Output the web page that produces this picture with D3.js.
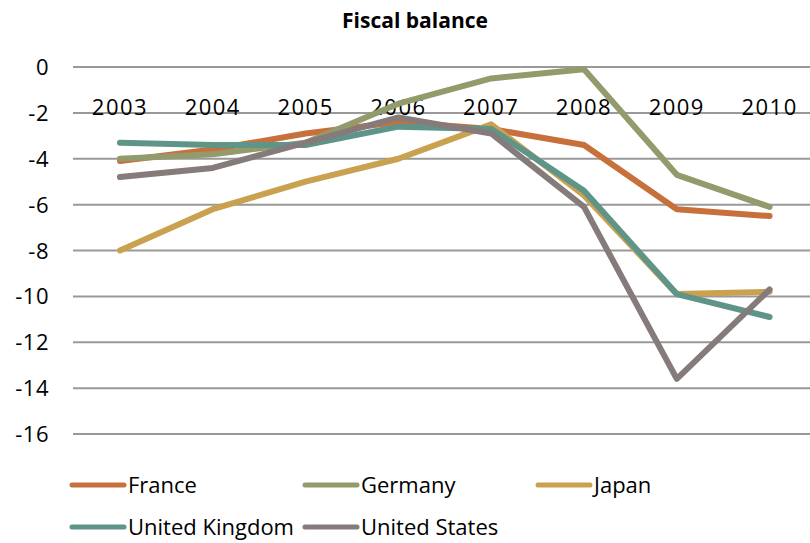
<!DOCTYPE html>
<html>
<head>
<meta charset="utf-8">
<script src="https://cdn.jsdelivr.net/npm/d3@7"></script>
<style>
body { margin: 0; background: #fff; }
text { font-family: "Open Sans", "DejaVu Sans", sans-serif; fill: #000; }
</style>
</head>
<body>
<div id="chart"></div>
<script>
var years = ["2003", "2004", "2005", "2006", "2007", "2008", "2009", "2010"]
var yTicks = [0, -2, -4, -6, -8, -10, -12, -14, -16]

var france = [-4.1, -3.6, -2.9, -2.4, -2.7, -3.4, -6.2, -6.5]
var germany = [-4.0, -3.8, -3.3, -1.6, -0.5, -0.1, -4.7, -6.1]
var japan = [-8.0, -6.2, -5.0, -4.0, -2.5, -5.6, -9.9, -9.8]
var uk = [-3.3, -3.4, -3.4, -2.6, -2.7, -5.4, -9.9, -10.9]
var us = [-4.8, -4.4, -3.3, -2.2, -2.9, -6.1, -13.6, -9.7]

var seriesNames = ["France", "Germany", "Japan", "United Kingdom", "United States"]
var seriesValues = [france, germany, japan, uk, us]
var seriesColors = ["#c8703c", "#939a6c", "#c9a14f", "#5f9488", "#857b7b"]

var width = 810, height = 543

var svg = d3.select("#chart").append("svg")
    .attr("width", width)
    .attr("height", height)

// title
svg.append("text")
    .attr("x", 415)
    .attr("y", 28)
    .attr("text-anchor", "middle")
    .style("font-size", "21px")
    .style("font-weight", "bold")
    .text("Fiscal balance")

var x = d3.scaleBand().domain(years).range([73.6, 816])
var y = d3.scaleLinear().domain([-16, 0]).range([434, 67])

// gridlines
svg.append("g")
    .selectAll("line")
    .data(yTicks)
    .enter().append("line")
    .attr("x1", 73)
    .attr("x2", width)
    .attr("y1", function (d) { return y(d) })
    .attr("y2", function (d) { return y(d) })
    .attr("stroke", "#999")
    .attr("stroke-width", 2)

// y labels
svg.append("g")
    .selectAll("text")
    .data(yTicks)
    .enter().append("text")
    .attr("x", 49)
    .attr("y", function (d) { return y(d) + 8 })
    .attr("text-anchor", "end")
    .style("font-size", "22px")
    .style("letter-spacing", "0.5px")
    .text(function (d) { return d })

// x labels (axis crosses at 0)
svg.append("g")
    .selectAll("text")
    .data(years)
    .enter().append("text")
    .attr("x", function (d) { return x(d) + x.bandwidth() / 2 })
    .attr("y", 115)
    .attr("text-anchor", "middle")
    .style("font-size", "22px")
    .style("letter-spacing", "1.5px")
    .text(function (d) { return d })

var line = d3.line()
    .x(function (d, i) { return x(years[i]) + x.bandwidth() / 2 })
    .y(function (d) { return y(d) })

seriesValues.forEach(function (vals, i) {
    svg.append("path")
        .datum(vals)
        .attr("fill", "none")
        .attr("stroke", seriesColors[i])
        .attr("stroke-width", 6)
        .attr("stroke-linecap", "round")
        .attr("stroke-linejoin", "round")
        .attr("d", line)
})

// legend
var legendPos = [[70, 485], [303, 485], [536, 485], [70, 527], [303, 527]]
seriesNames.forEach(function (name, i) {
    var g = svg.append("g")
        .attr("transform", "translate(" + legendPos[i][0] + "," + legendPos[i][1] + ")")
    g.append("line")
        .attr("x1", 2).attr("x2", 54)
        .attr("stroke", seriesColors[i])
        .attr("stroke-width", 5)
        .attr("stroke-linecap", "round")
    g.append("text")
        .attr("x", 58)
        .attr("y", 8)
        .style("font-size", "22px")
        .text(name)
})
</script>
</body>
</html>
